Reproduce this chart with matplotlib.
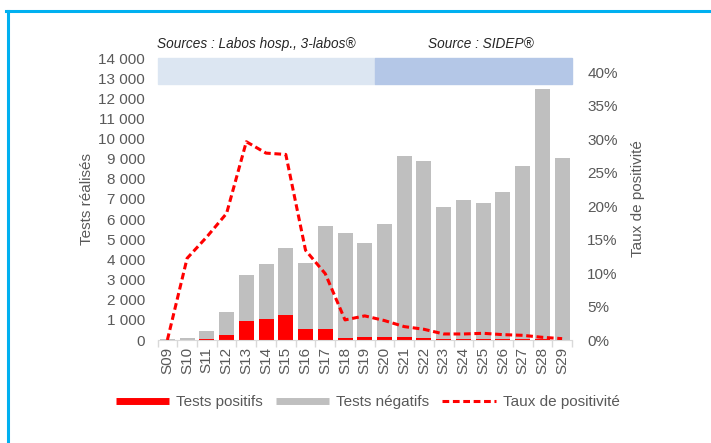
import matplotlib
matplotlib.use("Agg")
import matplotlib.pyplot as plt
from matplotlib.lines import Line2D
from matplotlib.patches import Rectangle
import numpy as np

plt.rcParams['font.family'] = ['Liberation Sans', 'DejaVu Sans']

weeks = ["S09", "S10", "S11", "S12", "S13", "S14", "S15", "S16", "S17", "S18", "S19",
         "S20", "S21", "S22", "S23", "S24", "S25", "S26", "S27", "S28", "S29"]
tests_total = [50, 100, 470, 1400, 3250, 3760, 4550, 3800, 5650, 5300, 4820,
               5760, 9135, 8870, 6620, 6935, 6785, 7350, 8620, 12460, 9035]
tests_positifs = [0, 10, 60, 270, 950, 1050, 1240, 530, 530, 120, 170,
                  130, 130, 100, 30, 50, 40, 30, 50, 40, 20]
taux = [0.0, 12.2, 15.4, 18.9, 29.6, 27.9, 27.7, 13.4, 9.9, 3.0, 3.6,
        2.9, 2.0, 1.6, 0.9, 0.9, 1.0, 0.8, 0.7, 0.4, 0.2]
tests_negatifs = [t - p for t, p in zip(tests_total, tests_positifs)]

src_labels = ["Sources : Labos hosp., 3-labos®", "Source : SIDEP®"]

GRAY_TXT = "#595959"
RED = "#FF0000"
GRAY = "#BFBFBF"
FS = 11

fig = plt.figure(figsize=(7.11, 4.43), dpi=100)
ax = fig.add_axes([157.5/711, 1-340/443, (572-157.5)/711, (340-58)/443])
x = np.arange(len(weeks))
w = 0.76
ax.bar(x, tests_positifs, w, color=RED, zorder=2)
ax.bar(x, tests_negatifs, w, bottom=tests_positifs, color=GRAY, zorder=2)
ax.set_xlim(-0.5, len(weeks)-0.5)
ax.set_ylim(0, 14000)
ax.set_yticks(np.arange(0, 14001, 1000))
ax.set_yticklabels([f"{v:,}".replace(",", " ") for v in range(0, 14001, 1000)])
ax.set_xticks(x)
ax.set_xticklabels(weeks, rotation=90)
ax.set_xticks(np.arange(-0.5, len(weeks), 1), minor=True)
ax.tick_params(axis='x', which='major', length=0, pad=5, labelsize=FS, labelcolor=GRAY_TXT)
ax.tick_params(axis='x', which='minor', length=5, color="#D9D9D9", width=1)
ax.tick_params(axis='y', length=0, labelsize=FS, labelcolor=GRAY_TXT, pad=9)
for s in ["top", "left", "right"]:
    ax.spines[s].set_visible(False)
ax.spines["bottom"].set_color("#D9D9D9")
ax.set_ylabel("Tests réalisés", color=GRAY_TXT, fontsize=FS)
ax.yaxis.set_label_coords((94-157.5)/414.5, 0.5)

# Source bands
ax.add_patch(Rectangle((-0.5, 12710), 11.0, 14000-12710, color="#DCE6F2", zorder=1, clip_on=False))
ax.add_patch(Rectangle((10.5, 12710), 10.0, 14000-12710, color="#B4C7E7", zorder=1, clip_on=False))
ax.text(4.5, 14700, src_labels[0], style='italic', fontsize=9.8, color="#262626",
        ha='center', va='center', clip_on=False)
ax.text(15.9, 14700, src_labels[1], style='italic', fontsize=9.8, color="#262626",
        ha='center', va='center', clip_on=False)

ax2 = ax.twinx()
ax2.plot(x, np.array(taux)/100, color=RED, lw=2.2, dashes=(2.2, 1.2), zorder=3)
ax2.set_ylim(0, 0.421)
ax2.set_yticks(np.arange(0, 0.41, 0.05))
ax2.set_yticklabels([f"{int(round(v*100))}%" for v in np.arange(0, 0.41, 0.05)])
ax2.tick_params(axis='y', length=0, labelsize=FS, labelcolor=GRAY_TXT, pad=11)
for s in ["top", "left", "right", "bottom"]:
    ax2.spines[s].set_visible(False)
ax2.set_ylabel("Taux de positivité", color=GRAY_TXT, fontsize=FS)
ax2.yaxis.set_label_coords((630.5-157.5)/414.5, 0.5)

handles = [Line2D([], [], color=RED, lw=5, solid_capstyle='butt'),
           Line2D([], [], color=GRAY, lw=5, solid_capstyle='butt'),
           Line2D([], [], color=RED, lw=2.2, dashes=(2.2, 1.2))]
labels = ["Tests positifs", "Tests négatifs", "Taux de positivité"]
fig.legend(handles, labels, loc='center', bbox_to_anchor=(367.5/711, 1-402/443), ncol=3,
           frameon=False, fontsize=FS, handlelength=3.5, handletextpad=0.45,
           columnspacing=0.85, labelcolor=GRAY_TXT, borderpad=0)

# Cyan frame
fig.add_artist(Line2D([6/711, 1], [1-10.5/443, 1-10.5/443], color="#00B0F0", lw=2.2,
                      transform=fig.transFigure))
fig.add_artist(Line2D([7.5/711, 7.5/711], [0, 1-10.5/443], color="#00B0F0", lw=2.2,
                      transform=fig.transFigure))

fig.savefig("out.png", dpi=100)
